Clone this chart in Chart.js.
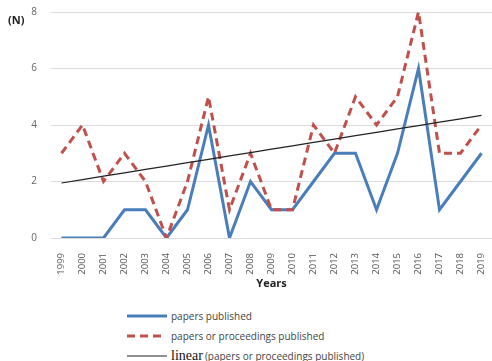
<!DOCTYPE html>
<html>
<head>
<meta charset="utf-8">
<script src="https://cdn.jsdelivr.net/npm/chart.js@4.4.1/dist/chart.umd.min.js"></script>
<style>
  html, body { margin: 0; padding: 0; background: #fff; }
  body { width: 492px; height: 361px; position: relative; overflow: hidden; font-family: "Open Sans", "Liberation Sans", sans-serif; }
  #wrap { position: absolute; left: 0; top: 0; width: 492px; height: 298px; }
  #unit { position: absolute; left: 8px; top: 12px; font-size: 11px; font-weight: bold; color: #222; }
  #legend { position: absolute; left: 127px; top: 306px; font-size: 10px; color: #444; }
  .item { height: 20px; display: flex; align-items: center; }
  .sw { width: 40px; margin-right: 4px; }
  .serif { font-family: "Liberation Serif", "DejaVu Serif", serif; font-size: 14px; color: #111; margin-right: 2px; }
</style>
</head>
<body>
<div id="wrap"><canvas id="chart"></canvas></div>
<div id="unit">(N)</div>
<div id="legend">
  <div class="item"><svg class="sw" height="4"><line x1="0" y1="2" x2="40" y2="2" stroke="#4a7ebb" stroke-width="3"/></svg>papers published</div>
  <div class="item"><svg class="sw" height="4"><line x1="0" y1="2" x2="38" y2="2" stroke="#c0504d" stroke-width="3" stroke-dasharray="8,5"/></svg>papers or proceedings published</div>
  <div class="item"><svg class="sw" height="4"><line x1="0" y1="2" x2="40" y2="2" stroke="#222" stroke-width="1.2"/></svg><span class="serif">linear</span>(papers or proceedings published)</div>
</div>
<script>
const years = ['1999','2000','2001','2002','2003','2004','2005','2006','2007','2008','2009','2010',
  '2011','2012','2013','2014','2015','2016','2017','2018','2019'];
const papers = [0, 0, 0, 1, 1, 0, 1, 4, 0, 2, 1, 1, 2, 3, 3, 1, 3, 6, 1, 2, 3];
const papersOrProceedings = [3, 4, 2, 3, 2, 0, 2, 5, 1, 3, 1, 1, 4, 3, 5, 4, 5, 8, 3, 3, 4];
const yTicks = [0, 2, 4, 6, 8];

// least squares trend of the second series, like Excel's "linear" trendline
function linearTrend(vals) {
  const n = vals.length;
  const mx = (n - 1) / 2;
  const my = vals.reduce((a, b) => a + b, 0) / n;
  let sxy = 0, sxx = 0;
  vals.forEach((v, i) => { sxy += (i - mx) * (v - my); sxx += (i - mx) * (i - mx); });
  const slope = sxy / sxx;
  return vals.map((v, i) => my + slope * (i - mx));
}
const trend = linearTrend(papersOrProceedings);

new Chart(document.getElementById('chart'), {
  type: 'line',
  data: {
    labels: years,
    datasets: [
      { label: 'papers published', data: papers, borderColor: '#4a7ebb', borderWidth: 3,
        pointRadius: 0, tension: 0, order: 2 },
      { label: 'papers or proceedings published', data: papersOrProceedings, borderColor: '#c0504d',
        borderWidth: 3, borderDash: [8, 5], pointRadius: 0, tension: 0, order: 1 },
      { label: 'linear (papers or proceedings published)', data: trend, borderColor: '#222',
        borderWidth: 1.2, pointRadius: 0, tension: 0, order: 0 }
    ]
  },
  options: {
    responsive: true,
    maintainAspectRatio: false,
    animation: false,
    layout: { padding: { top: 12, right: 0, left: 0, bottom: 0 } },
    plugins: { legend: { display: false }, tooltip: { enabled: false } },
    scales: {
      x: {
        offset: true,
        afterFit(axis) { axis.height = 60; axis.paddingLeft = 0; axis.paddingRight = 0; },
        grid: { display: false },
        border: { display: false },
        ticks: { color: '#555', font: { size: 9.5, family: 'Open Sans' }, minRotation: 90, maxRotation: 90, autoSkip: false, padding: 7 },
        title: { display: true, text: 'Years', color: '#222', font: { size: 11, weight: 'bold', family: 'Open Sans' }, padding: { top: 4, bottom: 8 } }
      },
      y: {
        min: 0, max: 8,
        afterBuildTicks(axis) { axis.ticks = yTicks.map(v => ({ value: v })); },
        afterFit(axis) { axis.width = 51; axis.paddingTop = 0; axis.paddingBottom = 0; },
        grid: { color: '#dcdcdc', drawTicks: false },
        border: { display: false },
        ticks: { color: '#666', font: { size: 10, family: 'Open Sans' }, padding: 14 }
      }
    }
  }
});
</script>
</body>
</html>
